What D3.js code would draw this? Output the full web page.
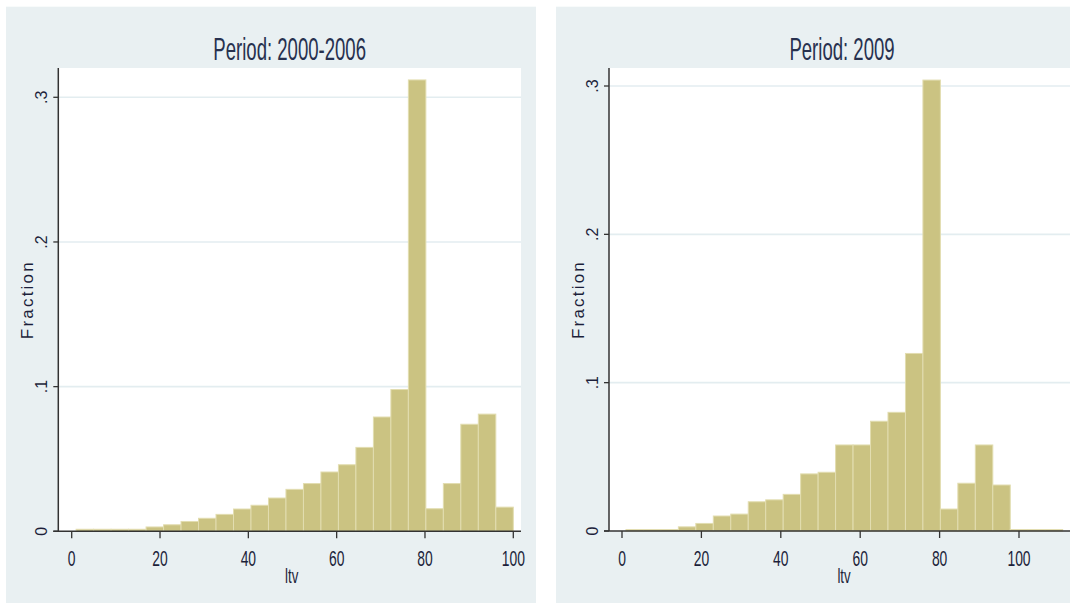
<!DOCTYPE html>
<html>
<head>
<meta charset="utf-8">
<script src="https://cdn.jsdelivr.net/npm/d3@7"></script>
<style>
  body { margin: 0; background: #fff; }
  svg { display: block; }
  text { font-family: "Liberation Sans", Arial, sans-serif; }
</style>
</head>
<body>
<svg id="chart" width="1070" height="607"></svg>
<script>
// histogram fractions, 25 bins each
var frac2000 = [0.0014, 0.0014, 0.0014, 0.0014, 0.003, 0.0045, 0.0068, 0.009, 0.0117, 0.0154,
  0.018, 0.023, 0.029, 0.033, 0.041, 0.046, 0.058, 0.079, 0.098, 0.312,
  0.0156, 0.033, 0.074, 0.081, 0.0167];
var frac2009 = [0.001, 0.001, 0.001, 0.0028, 0.0051, 0.0101, 0.0114, 0.0197, 0.021, 0.0247,
  0.0385, 0.0396, 0.058, 0.058, 0.074, 0.080, 0.1197, 0.304,
  0.0148, 0.0322, 0.058, 0.031, 0.001, 0.001, 0.001];

// bin start and width for each period (ltv units)
var binStart2000 = 1, binWidth2000 = 3.96;
var binStart2009 = 1, binWidth2009 = 4.4;

var titles = ["Period: 2000-2006", "Period: 2009"];
var xTicks = [0, 20, 40, 60, 80, 100];
var yTicks = [0, 0.1, 0.2, 0.3];

var svg = d3.select("#chart");

// panel layout (pixels)
var panels = [
  { title: titles[0], data: frac2000, start: binStart2000, width: binWidth2000,
    bg: [6, 6.7, 536, 603], plot: [58.3, 68, 521, 531.3],
    xr: [71.7, 513.3], yr: [531.3, 97.3] },
  { title: titles[1], data: frac2009, start: binStart2009, width: binWidth2009,
    bg: [556, 6.7, 1090, 603], plot: [609, 68, 1075, 531],
    xr: [622, 1019], yr: [531, 86] }
];

var fmtY = function(v){ return v == 0 ? "0" : d3.format(".1f")(v).replace(/^0/, ""); };

panels.forEach(function(p){
  var g = svg.append("g");

  // grey background + white plot region
  g.append("rect")
    .attr("x", p.bg[0]).attr("y", p.bg[1])
    .attr("width", p.bg[2] - p.bg[0]).attr("height", p.bg[3] - p.bg[1])
    .attr("fill", "#e9f0f2");
  g.append("rect")
    .attr("x", p.plot[0]).attr("y", p.plot[1])
    .attr("width", p.plot[2] - p.plot[0]).attr("height", p.plot[3] - p.plot[1])
    .attr("fill", "#ffffff");

  var x = d3.scaleLinear().domain([0, 100]).range(p.xr);
  var y = d3.scaleLinear().domain([0, 0.3]).range(p.yr);

  // gridlines
  g.selectAll(".grid")
    .data(yTicks.slice(1))
    .enter().append("line")
      .attr("x1", p.plot[0]).attr("x2", p.plot[2])
      .attr("y1", function(d){ return y(d) }).attr("y2", function(d){ return y(d) })
      .attr("stroke", "#e3edf0")
      .attr("stroke-width", 1.6);

  // bars
  g.selectAll(".bar")
    .data(p.data)
    .enter().append("rect")
      .attr("x", function(d, i){ return x(p.start + i * p.width) })
      .attr("width", function(d, i){ return x(p.start + (i + 1) * p.width) - x(p.start + i * p.width) })
      .attr("y", function(d){ return y(d) })
      .attr("height", function(d){ return y(0) - y(d) })
      .attr("fill", "#cbc382")
      .attr("stroke", "#e2ddb0")
      .attr("stroke-width", 1);

  // axes
  g.append("line")
    .attr("x1", p.plot[0] - 5).attr("x2", p.plot[2])
    .attr("y1", y(0)).attr("y2", y(0))
    .attr("stroke", "#333").attr("stroke-width", 1.5);
  g.append("line")
    .attr("x1", p.plot[0]).attr("x2", p.plot[0])
    .attr("y1", p.plot[1]).attr("y2", y(0))
    .attr("stroke", "#333").attr("stroke-width", 1.5);

  // x ticks + labels
  xTicks.forEach(function(t){
    g.append("line")
      .attr("x1", x(t)).attr("x2", x(t))
      .attr("y1", y(0)).attr("y2", y(0) + 7)
      .attr("stroke", "#333").attr("stroke-width", 1.3);
    g.append("text")
      .attr("transform", "translate(" + x(t) + "," + (y(0) + 35) + ") scale(0.63,1)")
      .attr("text-anchor", "middle")
      .attr("font-size", 22)
      .attr("fill", "#1c1f3a")
      .text(t);
  });

  // y ticks + rotated labels
  yTicks.forEach(function(t){
    g.append("line")
      .attr("x1", p.plot[0] - 5).attr("x2", p.plot[0])
      .attr("y1", y(t)).attr("y2", y(t))
      .attr("stroke", "#333").attr("stroke-width", 1.3);
    g.append("text")
      .attr("transform", "translate(" + (p.plot[0] - 11) + "," + y(t) + ") rotate(-90)")
      .attr("text-anchor", "middle")
      .attr("font-size", 16)
      .attr("fill", "#1c1f3a")
      .text(fmtY(t));
  });

  var cx = (p.plot[0] + p.plot[2]) / 2;
  var cy = (p.plot[1] + p.plot[3]) / 2;

  // axis titles
  g.append("text")
    .attr("transform", "translate(" + (p.plot[0] - 25.5) + "," + cy + ") rotate(-90)")
    .attr("text-anchor", "middle")
    .attr("font-size", 17)
    .attr("letter-spacing", 2.2)
    .attr("fill", "#1c1f3a")
    .text("Fraction");
  g.append("text")
    .attr("transform", "translate(" + (cx + 2) + "," + 583 + ") scale(0.63,1)")
    .attr("text-anchor", "middle")
    .attr("font-size", 21)
    .attr("fill", "#1c1f3a")
    .text("ltv");

  // panel title
  g.append("text")
    .attr("transform", "translate(" + cx + "," + 59.5 + ") scale(0.58,1)")
    .attr("text-anchor", "middle")
    .attr("font-size", 32)
    .attr("fill", "#27314f")
    .text(p.title);
});
</script>
</body>
</html>
